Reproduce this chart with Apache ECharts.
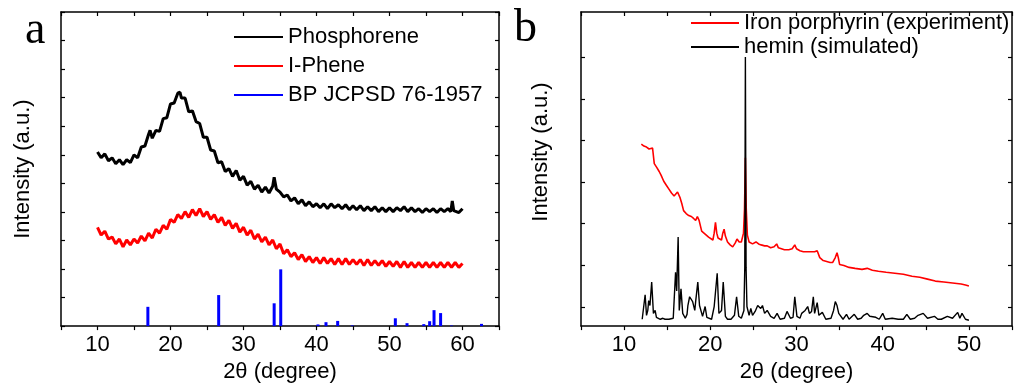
<!DOCTYPE html>
<html><head><meta charset="utf-8">
<script src="https://cdn.jsdelivr.net/npm/echarts@6/dist/echarts.min.js"></script>
<style>html,body{margin:0;padding:0;background:#fff}#c{width:1015px;height:388px}</style>
</head><body><div id="c"></div>
<script>
// ---------- Panel a data (2θ in degrees, intensity in a.u.) ----------
const phosphorene = [[10,178],[10.5,172],[11,176],[11.5,169],[12,172],[12.5,166],[13,170],[13.5,165],[14,170],[14.5,167],[15,175],[15.5,172],[16,183],[16.5,184],[17,196],[17.2,200],[17.5,192],[18,200],[18.5,199],[19,212],[19.5,213],[20,227],[20.5,228],[21,238],[21.3,239],[21.5,233],[22,233],[22.5,219],[23,220],[23.5,209],[24,207],[24.5,193],[25,193],[25.5,180],[26,179],[26.5,167],[27,168],[27.5,158],[28,161],[28.5,153],[29,159],[29.5,149],[30,153],[30.5,144],[31,148],[31.5,140],[32,144],[32.5,137],[33,142],[33.5,136],[34,143],[34.2,152],[34.5,140],[35,137],[35.5,132],[36,134],[36.5,128],[37,131],[37.5,125],[38,129],[38.5,123],[39,127],[39.5,122],[40,125],[40.5,121],[41,125],[41.5,120],[42,125],[42.5,121],[43,124],[43.5,120],[44,124],[44.5,119],[45,123],[45.5,119],[46,123],[46.5,118],[47,122],[47.5,118],[48,122],[48.5,117],[49,121],[49.5,117],[50,121],[50.5,117],[51,121],[51.5,118],[52,122],[52.5,117],[53,121],[53.5,117],[54,120],[54.5,116],[55,120],[55.5,117],[56,120],[56.5,116],[57,120],[57.5,117],[58,120],[58.4,117],[58.6,128],[58.8,118],[59,120],[59.5,116],[60,120]];
const iPhene = [[10,101],[10.5,93],[11,97],[11.5,89],[12,91],[12.5,84],[13,89],[13.5,81],[14,88],[14.5,83],[15,89],[15.5,85],[16,92],[16.5,87],[17,95],[17.5,90],[18,99],[18.5,95],[19,103],[19.5,99],[20,109],[20.5,106],[21,114],[21.5,110],[22,117],[22.5,111],[23,119],[23.5,113],[24,120],[24.5,112],[25,117],[25.5,109],[26,114],[26.5,106],[27,111],[27.5,103],[28,108],[28.5,100],[29,105],[29.5,96],[30,101],[30.5,93],[31,98],[31.5,89],[32,94],[32.5,86],[33,91],[33.5,83],[34,88],[34.5,79],[35,84],[35.5,74],[36,78],[36.5,71],[37,75],[37.5,68],[38,73],[38.5,66],[39,71],[39.5,65],[40,70],[40.5,64],[41,70],[41.5,64],[42,69],[42.5,63],[43,69],[43.5,63],[44,69],[44.5,63],[45,68],[45.5,63],[46,68],[46.5,62],[47,68],[47.5,62],[48,67],[48.5,62],[49,67],[49.5,61],[50,66],[50.5,61],[51,66],[51.5,60],[52,66],[52.5,60],[53,65],[53.5,60],[54,65],[54.5,60],[55,65],[55.5,60],[56,65],[56.5,60],[57,65],[57.5,60],[58,65],[58.5,60],[59,65],[59.5,60],[60,64]];
const bpPositions = [16.9,26.6,34.2,35.1,40.2,41.3,42.9,44.9,50.8,52.4,54.7,55.5,56.1,57.0,58.5,62.6];
const bpIntensities = [19.7,31.7,23.3,58,1.7,4,5.3,0.7,8,3,2,5,16.3,13.3,0.6,2.3];

// ---------- Panel b data ----------
const ironPorphyrin = [[12.0,186],[12.3,184],[12.6,183],[12.9,181],[13.1,179],[13.3,182],[13.5,166],[13.8,162],[14.07,158],[14.3,154],[14.6,148],[14.9,144],[15.2,140],[15.5,136],[15.8,133],[16.0,134],[16.2,137],[16.5,131],[16.7,125],[16.9,118],[17.2,115],[17.5,113],[17.8,112],[18.06,110],[18.3,108],[18.5,112],[18.7,108],[19.0,97],[19.4,94],[19.8,91],[20.3,88],[20.45,95],[20.6,106],[20.75,95],[20.9,90],[21.3,88],[21.45,95],[21.6,99],[21.75,92],[22.0,86],[22.3,83],[22.6,81],[22.9,85],[23.1,89],[23.35,86],[23.6,86],[23.85,95],[23.97,120],[24.07,172],[24.17,120],[24.3,93],[24.5,86],[24.9,84],[25.3,86],[25.6,84],[25.9,83],[26.3,82],[26.6,82],[27.0,80],[27.4,81],[27.7,84],[27.9,80],[28.1,79],[28.6,78],[29.1,78],[29.5,79],[29.8,83],[30.0,79],[30.4,77],[30.8,76],[31.2,76],[31.6,76],[32.1,76],[32.4,77],[32.7,70],[33.1,67],[33.5,66],[33.9,65],[34.2,65],[34.5,70],[34.7,75],[34.85,70],[35.0,63],[35.5,62],[36.1,60],[36.8,59],[37.6,58],[38.2,59],[38.8,57],[39.5,56],[40.4,55],[41.4,54],[42.4,53],[43.4,51],[44.3,50],[45.2,48],[46.1,46],[47.1,45],[48.1,44],[49.1,43],[49.6,42],[50,41]];
const heminSimulated = [[12.1,7],[12.3,9],[12.44,32],[12.6,11],[12.75,16],[12.85,26],[13.0,21],[13.2,45],[13.4,13],[13.6,16],[13.75,9],[13.9,8],[14.2,7],[14.5,8],[14.6,10],[14.75,7],[15.2,7],[15.7,8],[15.97,55],[16.1,36],[16.27,91],[16.4,16],[16.6,38],[16.8,13],[17.1,8],[17.3,12],[17.4,21],[17.6,30],[17.8,28],[17.95,25],[18.2,16],[18.3,25],[18.55,45],[18.75,21],[18.9,20],[19.1,10],[19.2,10],[19.4,20],[19.6,9],[19.8,7],[20.15,7],[20.45,20],[20.6,21],[20.8,54],[21.0,13],[21.3,16],[21.5,45],[21.75,10],[22.0,7],[22.4,7],[22.8,11],[23.05,30],[23.3,10],[23.6,8],[23.9,16],[24.0,60],[24.07,275],[24.15,60],[24.25,20],[24.5,11],[24.7,18],[24.9,11],[25.2,15],[25.5,21],[25.7,23],[25.85,18],[26.05,21],[26.3,13],[26.6,16],[27.0,10],[27.4,8],[27.75,13],[28.1,7],[28.6,8],[28.9,15],[29.3,8],[29.6,9],[29.8,30],[30.05,10],[30.4,8],[30.6,13],[31.0,16],[31.3,20],[31.5,13],[31.75,15],[31.95,30],[32.1,13],[32.4,24],[32.6,11],[33.0,14],[33.4,7],[34.0,8],[34.3,16],[34.5,25],[34.7,21],[34.9,13],[35.4,7],[35.8,12],[36.1,7],[36.7,12],[37.1,7],[37.5,8],[37.8,11],[38.2,13],[38.5,10],[39.2,9],[39.6,7],[40.0,13],[40.3,7],[41.1,8],[41.8,7],[42.4,7],[42.8,12],[43.2,7],[43.7,8],[44.1,11],[44.7,13],[45.2,8],[46.0,10],[46.4,7],[46.8,7],[47.5,10],[48.1,8],[48.7,14],[48.95,8],[49.2,13],[49.6,7],[50,6]];

// ---------- Axis settings ----------
const xRangeA = [5, 65];
const xRangeB = [5, 55];
const xTickStep = 5;
const yRangeA = [0, 321];
const yTickStepA = 321 / 11;
const yRangeB = [0, 321];
const yTicksB = [19.7, 62.2, 104.7, 147.2, 189.7, 232.2, 274.7];
const legendA = ['Phosphorene', 'I-Phene', 'BP JCPSD 76-1957'];
const legendB = ['Iron porphyrin (experiment)', 'hemin (simulated)'];

const FONT = '"Liberation Sans", Arial, sans-serif';
const FS = 22;

function bottomX(gi, range) {
  return {type: 'value', gridIndex: gi, position: 'bottom', min: range[0], max: range[1], interval: xTickStep,
    axisLine: {show: true, onZero: false, lineStyle: {color: '#000', width: 1.5}},
    axisTick: {show: true, inside: false, length: 4, lineStyle: {color: '#000', width: 1.2}},
    axisLabel: {show: true, margin: 8, color: '#000', fontSize: FS, fontFamily: FONT,
      formatter: v => (v % 10 === 0 && v >= 10 && v <= 60) ? String(v) : ''},
    splitLine: {show: false},
    name: '2θ (degree)', nameLocation: 'middle', nameGap: 29,
    nameTextStyle: {color: '#000', fontSize: FS, fontFamily: FONT}};
}
function topX(gi, range) {
  return {type: 'value', gridIndex: gi, position: 'top', min: range[0], max: range[1], interval: xTickStep,
    axisLine: {show: true, onZero: false, lineStyle: {color: '#000', width: 1.5}},
    axisTick: {show: true, inside: true, length: 4, lineStyle: {color: '#000', width: 1.2}},
    axisLabel: {show: false}, splitLine: {show: false}};
}
function yAx(gi, range, pos, extra) {
  const o = {type: 'value', gridIndex: gi, position: pos, min: range[0], max: range[1],
    axisLine: {show: true, onZero: false, lineStyle: {color: '#000', width: 1.5}},
    axisTick: {show: true, inside: true, length: 4, lineStyle: {color: '#000', width: 1.2}},
    axisLabel: {show: false}, splitLine: {show: false}};
  return Object.assign(o, extra || {});
}

const chart = echarts.init(document.getElementById('c'), null, {renderer: 'canvas'});
chart.setOption({
  animation: false,
  backgroundColor: '#fff',
  grid: [
    {left: 61, top: 12, width: 438, height: 321},
    {left: 581, top: 12, width: 438, height: 321}
  ],
  xAxis: [bottomX(0, xRangeA), topX(0, xRangeA), bottomX(1, xRangeB), topX(1, xRangeB)],
  yAxis: [
    yAx(0, yRangeA, 'left', {interval: yTickStepA, name: 'Intensity (a.u.)', nameLocation: 'middle', nameGap: 27,
      nameTextStyle: {color: '#000', fontSize: FS, fontFamily: FONT}}),
    yAx(0, yRangeA, 'right', {interval: yTickStepA}),
    yAx(1, yRangeB, 'left', {axisTick: {show: true, inside: true, length: 4, customValues: yTicksB, lineStyle: {color: '#000', width: 1.2}}}),
    yAx(1, yRangeB, 'right', {axisTick: {show: true, inside: true, length: 4, customValues: yTicksB, lineStyle: {color: '#000', width: 1.2}}})
  ],
  legend: [
    {left: 234, top: 26, padding: 0, orient: 'vertical', itemWidth: 49, itemHeight: 2, itemGap: 7, icon: 'rect',
      itemStyle: {borderWidth: 0}, lineStyle: {width: 0},
      data: legendA, textStyle: {color: '#000', fontSize: FS, fontFamily: FONT}},
    {left: 691, top: 12, padding: 0, orient: 'vertical', itemWidth: 48, itemHeight: 2, itemGap: 2, icon: 'rect',
      itemStyle: {borderWidth: 0}, lineStyle: {width: 0},
      data: legendB, textStyle: {color: '#000', fontSize: FS, fontFamily: FONT}}
  ],
  graphic: [
    {type: 'text', left: 25, top: 8, style: {text: 'a', font: '46px "Liberation Serif", "Times New Roman", serif', fill: '#000'}},
    {type: 'text', left: 514, top: 6, style: {text: 'b', font: '46px "Liberation Serif", "Times New Roman", serif', fill: '#000'}},
    {type: 'text', x: 541, y: 152, rotation: Math.PI / 2,
      style: {text: 'Intensity (a.u.)', font: FS + 'px ' + FONT, fill: '#000', align: 'center', verticalAlign: 'middle'}}
  ],
  series: [
    {name: legendA[0], type: 'line', xAxisIndex: 0, yAxisIndex: 0, data: phosphorene, symbol: 'none', z: 3,
      itemStyle: {color: '#000'}, lineStyle: {color: '#000', width: 3}},
    {name: legendA[1], type: 'line', xAxisIndex: 0, yAxisIndex: 0, data: iPhene, symbol: 'none', z: 3,
      itemStyle: {color: '#ff0000'}, lineStyle: {color: '#ff0000', width: 3}},
    {name: legendA[2], type: 'bar', xAxisIndex: 0, yAxisIndex: 0, barWidth: 3, z: 2,
      data: bpPositions.map((p, i) => [p, bpIntensities[i]]), itemStyle: {color: '#0000ff'}},
    {name: legendB[0], type: 'line', xAxisIndex: 2, yAxisIndex: 2, data: ironPorphyrin, symbol: 'none', z: 3,
      itemStyle: {color: '#ff0000'}, lineStyle: {color: '#ff0000', width: 1.6}},
    {name: legendB[1], type: 'line', xAxisIndex: 2, yAxisIndex: 2, data: heminSimulated, symbol: 'none', z: 4,
      itemStyle: {color: '#000'}, lineStyle: {color: '#000', width: 1.4}}
  ]
});
</script>
</body></html>
